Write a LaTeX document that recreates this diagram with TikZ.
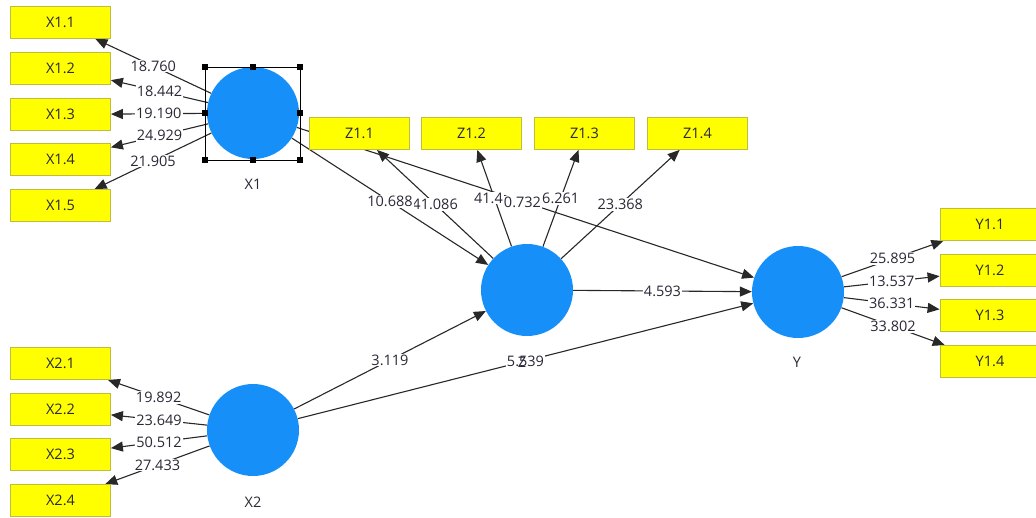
\documentclass[tikz,border=0pt]{standalone}
\usepackage{fontspec}
\setmainfont{Open Sans}
\usetikzlibrary{arrows.meta}
\pgfdeclarelayer{bg}
\pgfsetlayers{bg,main}
\definecolor{lvc}{RGB}{22,144,248}
\definecolor{indc}{RGB}{255,255,0}
\definecolor{indb}{RGB}{190,190,60}
\definecolor{lnc}{RGB}{40,40,40}
\definecolor{txtc}{RGB}{40,40,55}
\begin{document}
\begin{tikzpicture}[x=1pt,y=-1pt,
  font=\fontsize{14.5}{17}\selectfont,
  ind/.style={draw=indb, fill=indc, minimum width=100pt, minimum height=32pt, inner sep=0pt, line width=0.8pt, text=txtc},
  lv/.style={circle, fill=lvc, minimum size=92pt, inner sep=0pt},
  conn/.style={draw=lnc, line width=1.1pt, -{Triangle[length=12pt,width=10pt]}},
  lbl/.style={fill=white, inner sep=1pt, text=txtc},
  lvname/.style={text=txtc},
  hdl/.style={fill=black, minimum size=6pt, inner sep=0pt}]
\useasboundingbox (0,0) rectangle (1036,517);
\clip (0,0) rectangle (1036,517);
% indicator boxes
\node[ind] (x11) at (60.5,22.5) {X1.1};
\node[ind] (x12) at (60.5,68.5) {X1.2};
\node[ind] (x13) at (60.5,114.5) {X1.3};
\node[ind] (x14) at (60.5,159.5) {X1.4};
\node[ind] (x15) at (60.5,205.5) {X1.5};
\node[ind] (x21) at (60.5,363.5) {X2.1};
\node[ind] (x22) at (60.5,409.5) {X2.2};
\node[ind] (x23) at (60.5,454.5) {X2.3};
\node[ind] (x24) at (60.5,500.5) {X2.4};
\node[ind] (z11) at (359.5,133.5) {Z1.1};
\node[ind] (z12) at (471.5,133.5) {Z1.2};
\node[ind] (z13) at (584.5,133.5) {Z1.3};
\node[ind] (z14) at (697.5,133.5) {Z1.4};
\node[ind] (y11) at (990,224.5) {Y1.1};
\node[ind] (y12) at (990,270.5) {Y1.2};
\node[ind] (y13) at (990,315.5) {Y1.3};
\node[ind] (y14) at (990,361.5) {Y1.4};
% latent variables
\node[lv] (X1) at (253,113) {};
\node[lv] (X2) at (253,430) {};
\node[lv] (Z) at (527,290) {};
\node[lv] (Y) at (798,292) {};
\node[lvname] (nX1) at (253,184) {X1};
\node[lvname] (nX2) at (253,502) {X2};
\node[lvname] (nY) at (797,362) {Y};
\node[lvname] (nZ) at (522,362) {Z};
% selection frame
\draw[line width=0.8pt] (205,67) rectangle (300,160);
\node[hdl] (h1) at (205,67) {};
\node[hdl] (h2) at (253,67) {};
\node[hdl] (h3) at (300,67) {};
\node[hdl] (h4) at (205,113) {};
\node[hdl] (h5) at (300,113) {};
\node[hdl] (h6) at (205,160) {};
\node[hdl] (h7) at (253,160) {};
\node[hdl] (h8) at (300,160) {};
% connectors (lines first, labels afterwards)
\begin{pgfonlayer}{bg}
\fill[white] (0,0) rectangle (1036,517);
\draw[conn] (X1) -- (x11);
\draw[conn] (X1) -- (x12);
\draw[conn] (X1) -- (x13);
\draw[conn] (X1) -- (x14);
\draw[conn] (X1) -- (x15);
\draw[conn] (X2) -- (x21);
\draw[conn] (X2) -- (x22);
\draw[conn] (X2) -- (x23);
\draw[conn] (X2) -- (x24);
\draw[conn] (Y) -- (y11);
\draw[conn] (Y) -- (y12);
\draw[conn] (Y) -- (y13);
\draw[conn] (Y) -- (y14);
\draw[conn] (Z) -- (z11);
\draw[conn] (Z) -- (z12);
\draw[conn] (Z) -- (z13);
\draw[conn] (Z) -- (z14);
\draw[conn] (X1) -- (Z);
\draw[conn] (X1) -- (Y);
\draw[conn] (Z) -- (Y);
\draw[conn] (X2) -- (Z);
\draw[conn] (X2) -- (Y);
\path (X1) -- node[lbl]{18.760} (x11);
\path (X1) -- node[lbl]{18.442} (x12);
\path (X1) -- node[lbl]{19.190} (x13);
\path (X1) -- node[lbl]{24.929} (x14);
\path (X1) -- node[lbl]{21.905} (x15);
\path (X2) -- node[lbl]{19.892} (x21);
\path (X2) -- node[lbl]{23.649} (x22);
\path (X2) -- node[lbl]{50.512} (x23);
\path (X2) -- node[lbl]{27.433} (x24);
\path (Y) -- node[lbl]{25.895} (y11);
\path (Y) -- node[lbl]{13.537} (y12);
\path (Y) -- node[lbl]{36.331} (y13);
\path (Y) -- node[lbl]{33.802} (y14);
\path (Z) -- node[lbl]{41.086} (z11);
\path (Z) -- node[lbl, xshift=-6pt]{41.4} (z12);
\path (Z) -- node[lbl]{6.261} (z13);
\path (Z) -- node[lbl]{23.368} (z14);
\path (X1) -- node[lbl]{10.688} (Z);
\path (X1) -- node[lbl, xshift=-3pt]{0.732} (Y);
\path (Z) -- node[lbl]{4.593} (Y);
\path (X2) -- node[lbl]{3.119} (Z);
\path (X2) -- node[lbl]{5.539} (Y);
\end{pgfonlayer}
\end{tikzpicture}
\end{document}
